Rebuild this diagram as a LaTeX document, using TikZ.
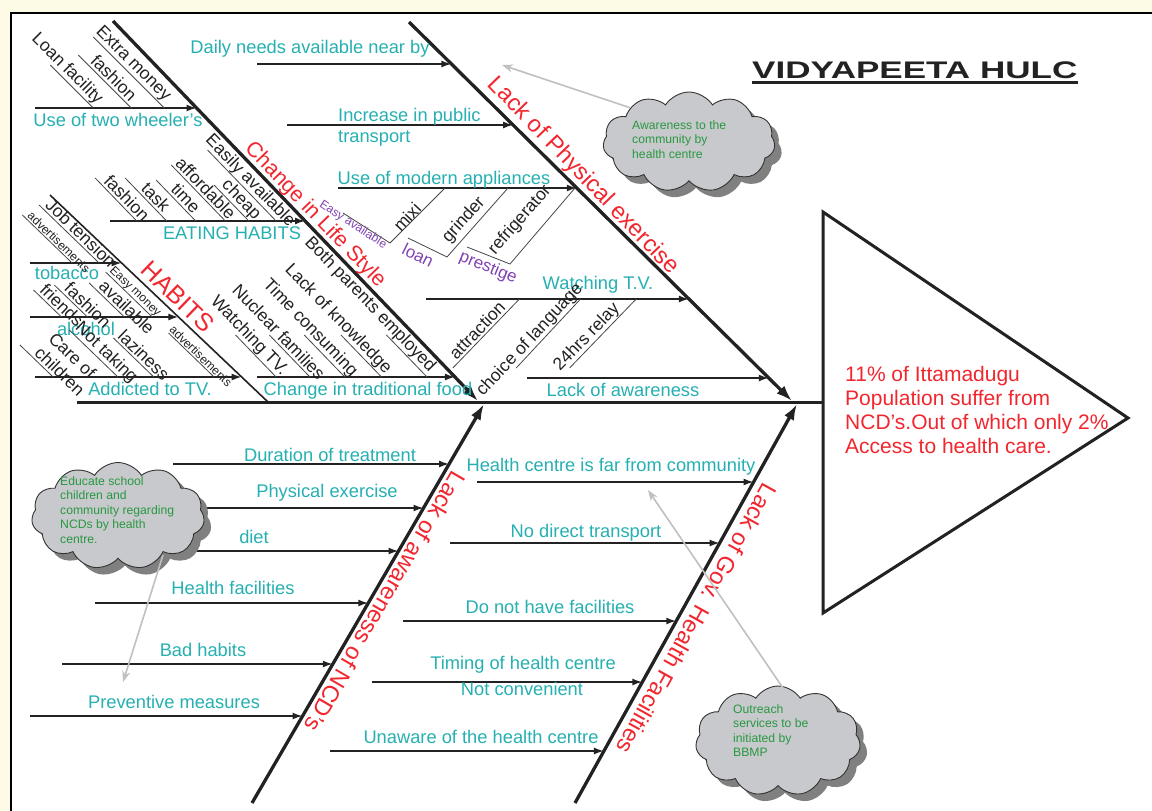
\documentclass[tikz,border=0pt]{standalone}
\usepackage{graphicx}
\usepackage{fontspec}
\setmainfont{Liberation Sans}
\usetikzlibrary{arrows.meta,shapes.symbols,shadows,calc}

\definecolor{lblteal}{RGB}{38,176,178}
\definecolor{causered}{RGB}{242,38,46}
\definecolor{notepurple}{RGB}{130,66,178}
\definecolor{notegreen}{RGB}{40,152,66}
\definecolor{cream}{RGB}{253,251,230}
\definecolor{cloudfill}{RGB}{200,201,204}
\definecolor{hintgray}{RGB}{192,192,192}
\definecolor{inkdark}{RGB}{34,34,34}

% x position of each bone at a given height
\newcommand\boneLS[1]{113+(#1-21)*0.9605}
\newcommand\bonePE[1]{409+(#1-22)*1.0106}
\newcommand\boneHB[1]{50+(#1-195)*1.0531}
\newcommand\boneAW[1]{252+(803-#1)*0.5815}
\newcommand\boneGV[1]{575+(803-#1)*0.5564}

% horizontal cause line ending with an arrow on a bone
\newcommand\fishbranch[4]{%
  \pgfmathsetmacro\brx{#2{#4}}%
  \coordinate (#1) at (#3,#4);
  \coordinate (#1-end) at (\brx,#4);
  \draw[branch] (#1) -- (#1-end);}

% slanted sub-cause: rotated text with a rule along its lower side
\def\twigoff{9}
\newcommand\fishtwig[8][]{%
  \node[twigtext,rotate=#5,#1] (#2) at (#3,#4) {#6};
  \pgfmathsetmacro\twX{#3+\twigoff*sin(#5)}%
  \pgfmathsetmacro\twY{#4+\twigoff*cos(#5)}%
  \pgfmathsetmacro\twAx{\twX-(#7-\twY)*cos(#5)/sin(#5)}%
  \pgfmathsetmacro\twBx{\twX-(#8-\twY)*cos(#5)/sin(#5)}%
  \coordinate (#2-top) at (\twAx,#7);
  \coordinate (#2-foot) at (\twBx,#8);
  \draw[twigline] (#2-top) -- (#2-foot);}

\begin{document}
\begin{tikzpicture}[x=1pt,y=-1pt,
  spine/.style={line width=3pt, inkdark},
  bone/.style={line width=3.3pt, inkdark, -{Latex[length=16pt,width=11pt]}},
  subbone/.style={line width=1.6pt, inkdark},
  branch/.style={line width=1.7pt, inkdark, -{Latex[length=10pt,width=7pt]}},
  twigline/.style={line width=0.8pt, black!72},
  lbl/.style={text=lblteal, font=\fontsize{18.3}{21}\selectfont, inner sep=0pt},
  twigtext/.style={text=inkdark, font=\fontsize{17.5}{20}\selectfont, inner sep=0pt},
  smalltwig/.style={font=\fontsize{12}{14}\selectfont},
  cause/.style={text=causered, font=\fontsize{23.5}{27}\selectfont, inner sep=0pt},
  note/.style={text=notepurple, font=\fontsize{17}{20}\selectfont, inner sep=0pt},
  cloudnote/.style={cloud, cloud puffs=11, cloud puff arc=115, cloud ignores aspect,
    draw=black!80, line width=0.9pt, fill=cloudfill,
    drop shadow={shadow xshift=7pt, shadow yshift=-7pt, fill=black!50, opacity=1}},
  cloudtext/.style={text=notegreen, font=\fontsize{12.2}{14.5}\selectfont, align=left, inner sep=0pt},
  hint/.style={hintgray, line width=1.6pt, -{Stealth[length=11pt,width=8pt]}},
]
\useasboundingbox (0,0) rectangle (1152,811);
\clip (0,0) rectangle (1152,811);
\fill[cream] (0,0) rectangle (1152,811);
\draw[line width=2.6pt, fill=white] (11,13) rectangle (1190,850);

% title
\node[anchor=base west, inner sep=0pt, text=inkdark, font=\bfseries\fontsize{24}{28}\selectfont] (title) at (752,78) {\scalebox{1.46}[1]{VIDYAPEETA HULC}};
\draw[line width=2.4pt, inkdark] ([yshift=-4.5pt]title.base west) -- ([yshift=-4.5pt]title.base east);

% head of the fish
\coordinate (headtop) at (823,212);
\coordinate (headtip) at (1128,418);
\coordinate (headbot) at (823,613);
\draw[line width=3pt, inkdark, line join=miter] (headtop) -- (headtip) -- (headbot) -- cycle;
\node[anchor=north west, text=causered, font=\fontsize{21}{24}\selectfont, align=left, inner sep=0pt] (effect) at (845,366) {11\% of Ittamadugu\\Population suffer from\\NCD's.Out of which only 2\%\\Access to health care.};

% spine and main bones
\coordinate (spinestart) at (77,402);
\draw[spine] (spinestart) -- (spinestart -| headtop);
\coordinate (lsS) at (113,21);  \coordinate (lsE) at (478,401);
\coordinate (peS) at (409,22);  \coordinate (peE) at (792,401);
\coordinate (awS) at (252,803); \coordinate (awE) at (484,404);
\coordinate (gvS) at (575,803); \coordinate (gvE) at (797,404);
\coordinate (hbS) at (50,195);  \coordinate (hbE) at (268,402);
\draw[bone] (lsS) -- (lsE);
\draw[bone] (peS) -- (peE);
\draw[bone] (awS) -- (awE);
\draw[bone] (gvS) -- (gvE);
\draw[subbone] (hbS) -- (hbE);

% cause lines
\fishbranch{twowheel}{\boneLS}{35}{108}
\fishbranch{eating}{\boneLS}{110}{221}
\fishbranch{tradfood}{\boneLS}{257}{377}
\fishbranch{dailyneeds}{\bonePE}{257}{64}
\fishbranch{transport}{\bonePE}{287}{125}
\fishbranch{appliances}{\bonePE}{338}{188}
\fishbranch{watchtv}{\bonePE}{426}{299}
\fishbranch{unaware}{\bonePE}{527}{378}
\fishbranch{tobacco}{\boneHB}{30}{263}
\fishbranch{alcohol}{\boneHB}{30}{317}
\fishbranch{addicted}{\boneHB}{35}{377}
\fishbranch{duration}{\boneAW}{173}{464}
\fishbranch{exercise}{\boneAW}{205}{508}
\fishbranch{diet}{\boneAW}{190}{551}
\fishbranch{facilities}{\boneAW}{95}{603}
\fishbranch{badhabits}{\boneAW}{62}{664}
\fishbranch{preventive}{\boneAW}{30}{716}
\fishbranch{far}{\boneGV}{477}{482}
\fishbranch{transportgv}{\boneGV}{450}{543}
\fishbranch{nofacility}{\boneGV}{403}{621}
\fishbranch{timing}{\boneGV}{372}{682}
\fishbranch{unawarehc}{\boneGV}{330}{751}

% bone titles
\node[cause, rotate=-46, font=\fontsize{21.5}{25}\selectfont] (c-life) at (315,215) {Change in Life Style};
\node[cause, rotate=-46] (c-phys) at (583,176) {Lack of Physical exercise};
\node[cause, rotate=-44, font=\fontsize{25}{28}\selectfont] (c-habits) at (178,297) {HABITS};
\node[cause, rotate=239.8] (c-aware) at (385,602) {Lack of awareness of NCD's};
\node[cause, rotate=240.9] (c-gov) at (697,619) {Lack of Gov. Health Facilities};

% cause labels
\node[lbl] (twowheel-l) at (118,120) {Use of two wheeler's};
\node[lbl] (eating-l) at (232,233) {EATING HABITS};
\node[lbl] (tradfood-l) at (368,391) {Change in traditional food};
\node[lbl] (dailyneeds-l) at (310,49) {Daily needs available near by};
\node[lbl, align=left, anchor=west] (transport-l) at (338,127) {Increase in public\\transport};
\node[lbl] (appliances-l) at (444,180) {Use of modern appliances};
\node[lbl] (watchtv-l) at (598,285) {Watching T.V.};
\node[lbl] (unaware-l) at (623,390) {Lack of awareness};
\node[lbl] (tobacco-l) at (67,273) {tobacco};
\node[lbl] (alcohol-l) at (86,329) {alcohol};
\node[lbl] (addicted-l) at (150,389) {Addicted to TV.};
\node[lbl] (duration-l) at (330,455) {Duration of treatment};
\node[lbl] (exercise-l) at (327,493) {Physical exercise};
\node[lbl] (diet-l) at (254,537) {diet};
\node[lbl] (facilities-l) at (233,588) {Health facilities};
\node[lbl] (badhabits-l) at (203,650) {Bad habits};
\node[lbl] (preventive-l) at (174,702) {Preventive measures};
\node[lbl] (far-l) at (611,467) {Health centre is far from community};
\node[lbl] (transportgv-l) at (586,533) {No direct transport};
\node[lbl] (nofacility-l) at (550,607) {Do not have facilities};
\node[lbl] (timing-l) at (523,665) {Timing of health centre};
\node[lbl] (timing-l2) at (522,689) {Not convenient};
\node[lbl] (unawarehc-l) at (481,737) {Unaware of the health centre};

% sub-causes: two wheelers
\fishtwig{extramoney}{133}{64}{-45}{Extra money}{37}{108}
\fishtwig{twfashion}{114}{78}{-45}{fashion}{55}{108}
\fishtwig{loanfac}{67}{69}{-45}{Loan facility}{65}{108}
% sub-causes: eating habits
\fishtwig{easily}{250}{181}{-46}{Easily available}{150}{221}
\fishtwig{cheap}{241}{200}{-46}{cheap}{185}{221}
\fishtwig{affordable}{206}{188}{-46}{affordable}{165}{221}
\fishtwig{timetw}{186}{198}{-46}{time}{180}{221}
\fishtwig{task}{156}{197}{-46}{task}{178}{221}
\fishtwig{ehfashion}{127}{198}{-46}{fashion}{178}{221}
% sub-causes: traditional food
\fishtwig{parents}{370}{305}{-46}{Both parents employed}{335}{377}
\fishtwig{knowledge}{338}{319}{-46}{Lack of knowledge}{335}{377}
\fishtwig{consuming}{310}{328}{-46}{Time consuming}{335}{377}
\fishtwig{nuclear}{279}{332}{-46}{Nuclear families}{335}{377}
\fishtwig{tftv}{249}{336}{-46}{Watching TV.}{335}{377}
% sub-causes: watching T.V.
\fishtwig{attraction}{477}{330}{46}{attraction}{299}{368}
\fishtwig{language}{530}{340}{47}{choice of language}{299}{368}
\fishtwig{relay}{587}{337}{46}{24hrs relay}{299}{368}
% sub-causes: habits
\fishtwig{jobtension}{81}{233}{-44}{Job tension}{205}{263}
\fishtwig{available}{127}{307}{-44}{available}{283}{317}
\fishtwig{hbfashion}{88}{305}{-44}{fashion}{285}{317}
\fishtwig{friends}{62}{305}{-44}{friends}{290}{317}
\fishtwig{nottaking}{106}{353}{-44}{Not taking}{330}{377}
\fishtwig{laziness}{144}{355}{-44}{laziness}{338}{377}
\def\twigoff{6}
\fishtwig[smalltwig]{advertA}{59}{242}{-44}{advertisements}{215}{263}
\fishtwig[smalltwig]{easymoney}{135}{292}{-44}{Easy money}{272}{317}
\fishtwig[smalltwig]{advertB}{201}{356}{-44}{advertisements}{333}{377}
\def\twigoff{19}
\fishtwig[align=left]{careof}{67}{364}{-44}{Care of\\children}{345}{377}
\def\twigoff{9}

% sub-causes: modern appliances
\coordinate (ea1) at (343,213); \coordinate (ea2) at (390,243); \coordinate (ea3) at (445,188);
\coordinate (lo1) at (408,238); \coordinate (lo2) at (447,257); \coordinate (lo3) at (508,188);
\coordinate (pr1) at (467,247); \coordinate (pr2) at (510,264); \coordinate (pr3) at (575,188);
\draw[twigline] (ea1) -- (ea2) -- (ea3);
\draw[twigline] (lo1) -- (lo2) -- (lo3);
\draw[twigline] (pr1) -- (pr2) -- (pr3);
\node[note, smalltwig, rotate=-33] (easyavail) at (353,225) {Easy available};
\node[note, rotate=-26] (loannote) at (418,255) {loan};
\node[note, rotate=-22] (prestige) at (488,268) {prestige};
\node[twigtext, rotate=47] (mixi) at (407,217) {mixi};
\node[twigtext, rotate=48] (grinder) at (464,220) {grinder};
\node[twigtext, rotate=49] (fridge) at (520,220) {refrigerator};

% remedies
\node[cloudnote, minimum width=172pt, minimum height=100pt] (cloudA) at (689,142) {};
\node[cloudtext, anchor=north west] (cloudA-t) at (632,120) {Awareness to the\\community by\\health centre};
\coordinate (cloudA-tip) at (502,65);
\draw[hint] (cloudA.north west) -- (cloudA-tip);

\node[cloudnote, minimum width=173pt, minimum height=107pt] (cloudB) at (118,516) {};
\node[cloudtext, anchor=north west] (cloudB-t) at (60,476) {Educate school\\children and\\community regarding\\NCDs by health\\centre.};
\coordinate (cloudB-tip) at (123,682);
\draw[hint] ([shift={(45pt,-39pt)}]cloudB.center) -- (cloudB-tip);

\node[cloudnote, minimum width=165pt, minimum height=110pt] (cloudC) at (778,741) {};
\node[cloudtext, anchor=north west] (cloudC-t) at (733,704) {Outreach\\services to be\\initiated by\\BBMP};
\coordinate (cloudC-tip) at (648,490);
\draw[hint] ([shift={(5pt,53pt)}]cloudC.center) -- (cloudC-tip);
\end{tikzpicture}
\end{document}
